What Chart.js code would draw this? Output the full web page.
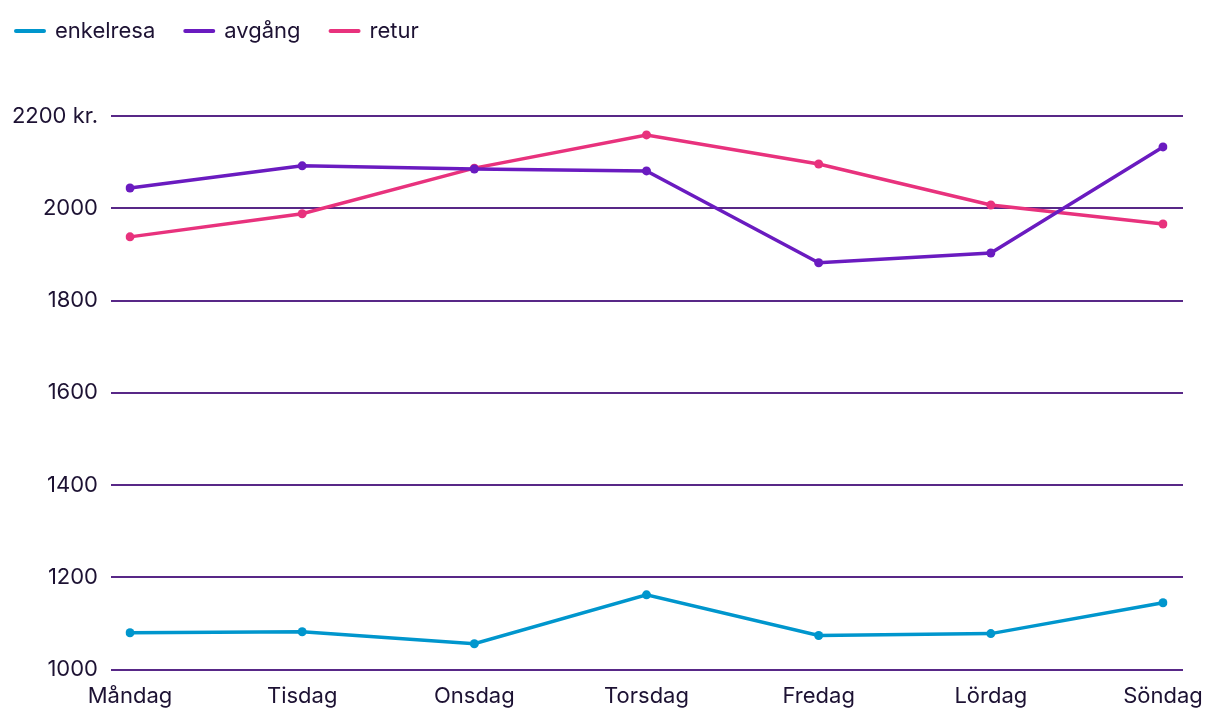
<!DOCTYPE html>
<html>
<head>
<meta charset="utf-8">
<script src="https://cdn.jsdelivr.net/npm/chart.js@4/dist/chart.umd.min.js"></script>
<style>
  html, body { margin: 0; padding: 0; background: #fff; }
  #wrap { width: 1220px; height: 718px; }
</style>
</head>
<body>
<div id="wrap"><canvas id="myChart"></canvas></div>
<script>
// days of the week
var days = ['Måndag', 'Tisdag', 'Onsdag', 'Torsdag', 'Fredag', 'Lördag', 'Söndag'];

// prices in kr.
var enkelresa = [1080, 1082, 1056, 1162, 1074, 1078, 1145];
var avgang = [2044, 2092, 2085, 2081, 1882, 1903, 2133];
var retur = [1938, 1988, 2087, 2159, 2096, 2007, 1966];

var yTicks = [1000, 1200, 1400, 1600, 1800, 2000, 2200];

var textColor = '#1d1233';
var gridColor = 'rgb(88, 40, 135)';
var fontFamily = 'Inter, "Noto Sans", sans-serif';

// horizontal grid lines stick out a bit past the plot on both sides
var gridPlugin = {
    id: 'wideGrid',
    beforeDatasetsDraw: function (chart) {
        var c = chart.ctx, y = chart.scales.y, a = chart.chartArea;
        c.save();
        c.strokeStyle = gridColor;
        c.lineWidth = 2;
        yTicks.forEach(function (v) {
            var py = Math.round(y.getPixelForValue(v));
            c.beginPath();
            c.moveTo(a.left - 19, py);
            c.lineTo(a.right + 20, py);
            c.stroke();
        });
        c.restore();
    }
};

// extra space under the legend
var legendSpace = {
    id: 'legendSpace',
    beforeInit: function (chart) {
        var fit = chart.legend.fit;
        chart.legend.fit = function () {
            fit.bind(chart.legend)();
            this.height += 64;
        };
    }
};

function line(label, data, color) {
    return {
        label: label,
        data: data,
        borderColor: color,
        backgroundColor: color,
        pointBackgroundColor: color,
        pointBorderColor: color,
        borderWidth: 3.5,
        borderCapStyle: 'round',
        pointRadius: 4.5,
        pointBorderWidth: 0,
        tension: 0,
        fill: false
    };
}

var ctx = document.getElementById('myChart').getContext('2d');
var chart = new Chart(ctx, {
    type: 'line',
    data: {
        labels: days,
        datasets: [
            line('enkelresa', enkelresa, 'rgb(0, 150, 205)'),
            line('avgång', avgang, 'rgb(106, 27, 192)'),
            line('retur', retur, 'rgb(232, 50, 125)')
        ]
    },
    plugins: [gridPlugin, legendSpace],
    options: {
        responsive: true,
        maintainAspectRatio: false,
        animation: false,
        layout: { padding: { left: -14, right: 57, top: -10, bottom: -6 } },
        plugins: {
            tooltip: { enabled: false },
            legend: {
                position: 'top',
                align: 'start',
                labels: {
                    usePointStyle: true,
                    pointStyle: 'line',
                    pointStyleWidth: 28,
                    boxWidth: 28,
                    padding: 30,
                    color: textColor,
                    font: { family: fontFamily, size: 22 },
                    generateLabels: function (chart) {
                        var items = Chart.defaults.plugins.legend.labels.generateLabels(chart);
                        items.forEach(function (it) {
                            it.lineWidth = 4;
                            it.lineCap = 'round';
                        });
                        return items;
                    }
                }
            }
        },
        scales: {
            x: {
                grid: { display: false, drawTicks: false },
                border: { display: false },
                ticks: {
                    color: textColor,
                    padding: 14,
                    maxRotation: 0,
                    font: { family: fontFamily, size: 22 }
                }
            },
            y: {
                min: 1000,
                max: 2200,
                afterFit: function (s) { s.width = 144; },
                afterBuildTicks: function (s) {
                    s.ticks = yTicks.map(function (v) { return { value: v }; });
                },
                grid: { display: false, drawTicks: false },
                border: { display: false },
                ticks: {
                    color: textColor,
                    padding: 32,
                    font: { family: fontFamily, size: 22 },
                    callback: function (v) { return v === 2200 ? v + ' kr.' : String(v); }
                }
            }
        }
    }
});
</script>
</body>
</html>
